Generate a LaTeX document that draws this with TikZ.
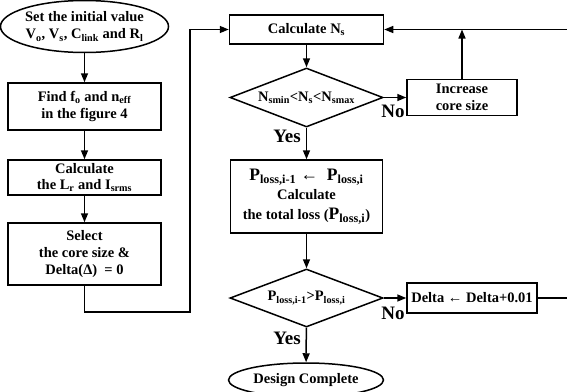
\documentclass[tikz,border=0pt]{standalone}
\usepackage{fontspec}
\setmainfont{Liberation Serif}
\usetikzlibrary{shapes.geometric,arrows.meta}
\newcommand{\sbx}[1]{\textsubscript{#1}}
\begin{document}
\begin{tikzpicture}[x=1pt,y=-1pt,
  font=\bfseries\fontsize{14.5}{17}\selectfont,
  line width=1.5pt,
  >={Triangle[length=9pt,width=7pt]},
  box/.style={draw, rectangle, inner sep=0pt, align=center},
  oval/.style={draw, ellipse, inner sep=0pt, align=center},
  dec/.style={draw, diamond, aspect=2.6, inner sep=0pt, minimum width=153pt, minimum height=59pt},
  lbl/.style={font=\bfseries\fontsize{19}{22}\selectfont, inner sep=0pt},
  small/.style={font=\bfseries\fontsize{14.5}{16}\selectfont}]
\useasboundingbox (0,0) rectangle (567,391);
\clip (0,0) rectangle (567,391);
% left column
\node[oval, minimum width=161pt, minimum height=52pt] (start) at (84.5,26.5) {Set the initial value\\V\sbx{o}, V\sbx{s}, C\sbx{link} and R\sbx{l}};
\node[box, minimum width=153pt, minimum height=47pt] (find) at (84.5,106.5) {Find f\sbx{o} and n\sbx{eff}\\in the figure 4};
\node[box, minimum width=153pt, minimum height=35pt, font=\bfseries\fontsize{14.5}{16}\selectfont] (calcL) at (84.5,177.5) {Calculate\\the L\sbx{r} and I\sbx{srms}};
\node[box, minimum width=153pt, minimum height=62pt] (sel) at (84.5,254) {Select\\the core size \&\\Delta(Δ)\ \ = 0};
% right column
\node[box, minimum width=154pt, minimum height=29pt] (calcN) at (306.5,29.5) {Calculate N\sbx{s}};
\node[dec, small] (d1) at (306.5,97.5) {N\sbx{smin}<N\sbx{s}<N\sbx{smax}};
\node[box, minimum width=110pt, minimum height=36pt] (incr) at (462,97.5) {Increase\\core size};
\node[box, minimum width=152pt, minimum height=73pt, font=\bfseries\fontsize{14.5}{19.5}\selectfont] (loss) at (306.5,196.5)
  {{\fontsize{17.5}{19}\selectfont P\sbx{loss,i-1} ←\ \ P\sbx{loss,i}}\\Calculate\\the total loss ({\fontsize{17.5}{19}\selectfont P\sbx{loss,i}})};
\node[dec, small, minimum height=58pt] (d2) at (306.5,298) {P\sbx{loss,i-1}>P\sbx{loss,i}};
\node[box, minimum width=130pt, minimum height=30pt] (delta) at (472,298) {Delta ← Delta+0.01};
\node[oval, minimum width=155pt, minimum height=34pt] (end) at (306,380) {Design Complete};
% labels
\node[lbl] (no1) at (393,111) {No};
\node[lbl] (yes1) at (287,136) {Yes};
\node[lbl] (no2) at (393,313) {No};
\node[lbl] (yes2) at (287,338) {Yes};
% helper coordinates
\coordinate (c2) at (190,312);
\coordinate (r1) at (572,298);
\coordinate (r2) at (572,29.5);
% connectors
\draw[->] (start) -- (find);
\draw[->] (find) -- (calcL);
\draw[->] (calcL) -- (sel);
\draw[->] (sel.south) |- (c2) |- (calcN.west);
\draw[->] (calcN) -- (d1);
\draw[->] (d1.east) -- (incr.west);
\draw[->] (incr.north) -- (incr.north |- calcN.east);
\draw[->] (d1) -- (loss);
\draw[->] (loss) -- (d2);
\draw[->] (d2.east) -- (delta.west);
\draw[->] (delta.east) -- (r1) -- (r2) -- (calcN.east);
\draw[->] (d2) -- (end);
\end{tikzpicture}
\end{document}
